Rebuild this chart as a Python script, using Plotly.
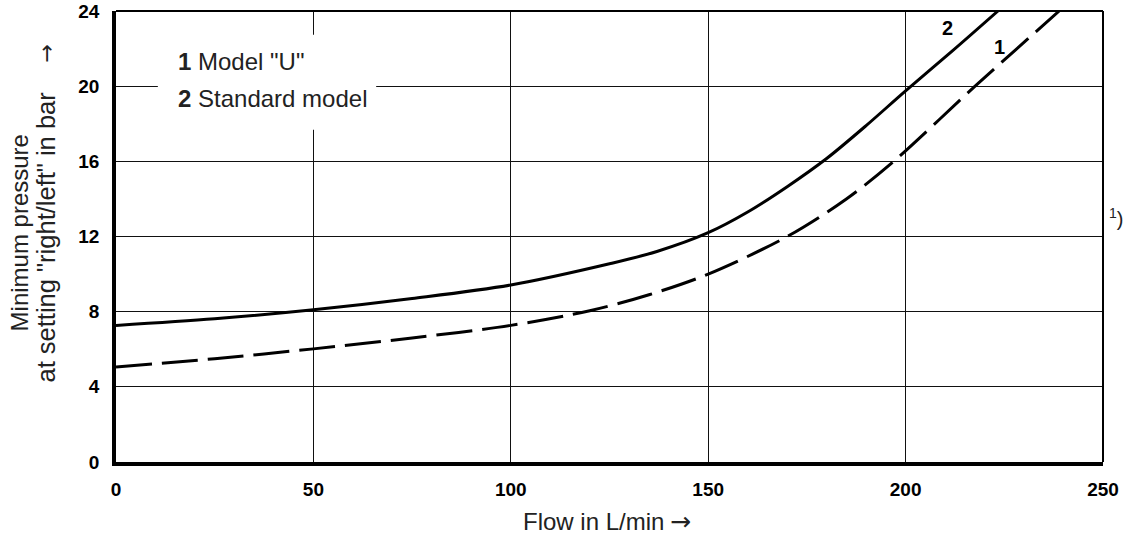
import plotly.graph_objects as go

# ---- data ----
flow_std = [0, 25, 50, 75, 100, 125, 137, 150, 160, 170, 180, 190, 200, 212, 223.4]
p_std = [7.27, 7.62, 8.1, 8.7, 9.42, 10.55, 11.2, 12.2, 13.3, 14.65, 16.15, 17.9, 19.75, 21.9, 24.0]

flow_u = [0, 25, 50, 75, 100, 120, 135, 150, 170, 185, 197, 217.6, 238.9]
p_u = [5.06, 5.5, 6.02, 6.6, 7.27, 8.05, 8.9, 10.0, 12.0, 14.0, 16.0, 20.0, 24.0]

x_ticks = [0, 50, 100, 150, 200, 250]
y_ticks = [0, 4, 8, 12, 16, 20, 24]

legend_lines = ['<b>1</b> Model "U"', '<b>2</b> Standard model']
curve_labels = ["2", "1"]

FONT = "Liberation Sans, Arial, sans-serif"
ARROW_FONT = "DejaVu Sans"

fig = go.Figure()
fig.add_trace(go.Scatter(x=flow_std, y=p_std, mode="lines",
                         line=dict(color="black", width=3, shape="spline", smoothing=0.9),
                         showlegend=False, hoverinfo="skip"))
fig.add_trace(go.Scatter(x=flow_u, y=p_u, mode="lines",
                         line=dict(color="black", width=3, shape="spline", smoothing=0.9,
                                   dash="36px,10px"),
                         showlegend=False, hoverinfo="skip"))

fig.update_layout(
    width=1124, height=538,
    margin=dict(l=116, r=21, t=11, b=76, autoexpand=False),
    paper_bgcolor="white", plot_bgcolor="white",
    font=dict(family=FONT, color="black"),
    showlegend=False,
)
fig.update_xaxes(range=[0, 250], tickvals=x_ticks, ticktext=[f"<b>{v}</b>" for v in x_ticks],
                 tickfont=dict(size=19, family=FONT, color="black"),
                 showgrid=True, gridcolor="#111", gridwidth=1.4, zeroline=False,
                 showline=True, linecolor="black", linewidth=3.5, automargin=False,
                 ticks="outside", ticklen=7, tickcolor="rgba(0,0,0,0)", fixedrange=True)
fig.update_yaxes(range=[0, 24], tickvals=y_ticks, ticktext=[f"<b>{v}</b>" for v in y_ticks],
                 tickfont=dict(size=19, family=FONT, color="black"),
                 showgrid=True, gridcolor="#111", gridwidth=1.4, zeroline=False,
                 showline=True, linecolor="black", linewidth=3.5, automargin=False,
                 ticks="outside", ticklen=9, tickcolor="rgba(0,0,0,0)", fixedrange=True)

# thin top / right border
fig.add_shape(type="line", xref="paper", yref="paper", x0=0, x1=1, y0=1, y1=1,
              line=dict(color="black", width=2))
fig.add_shape(type="line", xref="paper", yref="paper", x0=1, x1=1, y0=0, y1=1,
              line=dict(color="black", width=2))

# white box behind legend text (interrupts the grid)
fig.add_shape(type="rect", xref="x", yref="y", x0=10.6, x1=65.9, y0=17.68, y1=22.73,
              fillcolor="white", line=dict(width=0), layer="between")

# legend text
fig.add_annotation(x=15.2, y=21.31, xref="x", yref="y", text=legend_lines[0],
                   showarrow=False, xanchor="left", yanchor="middle",
                   font=dict(size=24, family=FONT, color="#222"))
fig.add_annotation(x=15.2, y=19.36, xref="x", yref="y", text=legend_lines[1],
                   showarrow=False, xanchor="left", yanchor="middle",
                   font=dict(size=24, family=FONT, color="#222"))

# curve labels
fig.add_annotation(x=210.6, y=23.1, xref="x", yref="y", text=f"<b>{curve_labels[0]}</b>",
                   showarrow=False, font=dict(size=20, family=FONT, color="black"))
fig.add_annotation(x=223.7, y=22.06, xref="x", yref="y", text=f"<b>{curve_labels[1]}</b>",
                   showarrow=False, font=dict(size=20, family=FONT, color="black"))

# x axis title + arrow
fig.add_annotation(x=0.4833, y=-0.1313, xref="paper", yref="paper", text="Flow in L/min",
                   showarrow=False, xanchor="center", yanchor="middle",
                   font=dict(size=24, family=FONT, color="#222"))
fig.add_annotation(x=0.5724, y=-0.1313, xref="paper", yref="paper", text="→",
                   showarrow=False, xanchor="center", yanchor="middle",
                   font=dict(size=25, family=ARROW_FONT, color="#222"))

# y axis title (two lines) + arrow
fig.add_annotation(x=-0.0983, y=0.509, xref="paper", yref="paper", text="Minimum pressure",
                   showarrow=False, textangle=-90, xanchor="center", yanchor="middle",
                   font=dict(size=24, family=FONT, color="#222"))
fig.add_annotation(x=-0.0709, y=0.4978, xref="paper", yref="paper",
                   text='at setting "right/left" in bar',
                   showarrow=False, textangle=-90, xanchor="center", yanchor="middle",
                   font=dict(size=25.5, family=FONT, color="#222"))
fig.add_annotation(x=-0.0709, y=0.906, xref="paper", yref="paper", text="→",
                   showarrow=False, textangle=-90, xanchor="center", yanchor="middle",
                   font=dict(size=22, family=ARROW_FONT, color="#222"))

# footnote mark
fig.add_annotation(x=1.0223, y=0.542, xref="paper", yref="paper", text="<sup>1</sup>)",
                   showarrow=False, xanchor="right", yanchor="middle",
                   font=dict(size=20, family=FONT, color="#222"))

fig.write_html("out.html", config={"displayModeBar": False},
               post_script="document.body.style.margin='0px';")
